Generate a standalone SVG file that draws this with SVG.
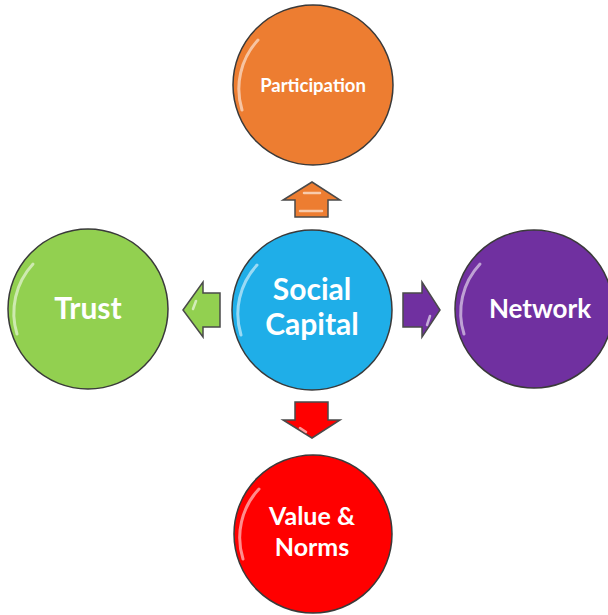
<svg xmlns="http://www.w3.org/2000/svg" width="608" height="615" viewBox="0 0 608 615">
<style>
.c{stroke:#3a3a3a;stroke-width:1.5}
.a{stroke:#4a4a4a;stroke-width:1.5;stroke-linejoin:miter}
.hl{fill:none;stroke:#ffffff;stroke-opacity:0.55;stroke-width:3;stroke-linecap:round}
.ah{fill:none;stroke:#ffffff;stroke-opacity:0.6;stroke-width:2.5;stroke-linecap:round}
.t{font-family:Lato,"Open Sans","DejaVu Sans",sans-serif;font-weight:bold;fill:#ffffff;text-anchor:middle}
</style>
<rect width="608" height="615" fill="#ffffff"/>
<g id="connectors">
<polygon class="a" fill="#ED7D31" points="312,182 340,200 328,200 328,217 295,217 295,200 283,200"/>
<path class="ah" d="M304,193 L320,193 M300,211 L322,211"/>
<polygon class="a" fill="#FF0000" points="295,402 328,402 328,420 340,420 312,438 283,420 295,420"/>
<path class="ah" d="M300,428 L306,432"/>
<polygon class="a" fill="#92D050" points="183,310 203,282 203,293 220,293 220,327 203,327 203,337"/>
<path class="ah" d="M196,301 L193,309"/>
<polygon class="a" fill="#7030A0" points="403,293 422,293 422,282 440,310 422,337 422,327 403,327"/>
<path class="ah" d="M430,316 L427,325"/>
</g>
<g id="participation">
<circle class="c" cx="313" cy="85" r="80" fill="#ED7D31"/>
<path class="hl" d="M242,110 A72,72 0 0 1 258,40"/>
<text class="t" x="313" y="92" font-size="18.5">Participation</text>
</g>
<g id="social-capital">
<circle class="c" cx="312" cy="310" r="80" fill="#1FAEE8"/>
<path class="hl" d="M241,335 A72,72 0 0 1 257,265"/>
<text class="t" x="312" y="300" font-size="30">Social</text>
<text class="t" x="312" y="335" font-size="30">Capital</text>
</g>
<g id="trust">
<circle class="c" cx="88" cy="309" r="80" fill="#92D050"/>
<path class="hl" d="M17,334 A72,72 0 0 1 33,264"/>
<text class="t" x="88" y="319" font-size="30">Trust</text>
</g>
<g id="network">
<circle class="c" cx="534" cy="309" r="79" fill="#7030A0"/>
<path class="hl" d="M464,334 A71,71 0 0 1 480,264"/>
<text class="t" x="540" y="318" font-size="26">Network</text>
</g>
<g id="value-norms">
<circle class="c" cx="313" cy="534" r="79" fill="#FF0000"/>
<path class="hl" d="M243,559 A71,71 0 0 1 259,489"/>
<text class="t" x="312" y="525" font-size="25">Value &amp;</text>
<text class="t" x="312" y="556" font-size="25">Norms</text>
</g>
</svg>
